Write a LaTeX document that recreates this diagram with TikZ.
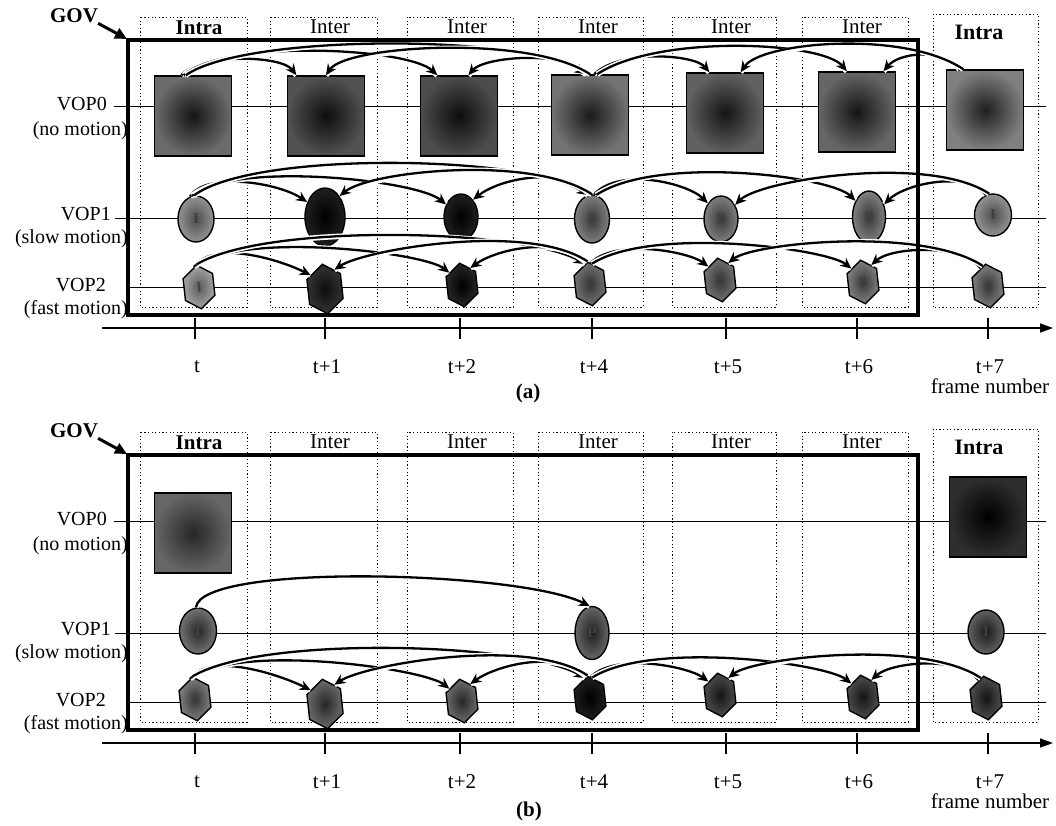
\documentclass[tikz,border=0pt]{standalone}
\usepackage{fontspec}
\setmainfont{Liberation Serif}
\usetikzlibrary{shapes.geometric,arrows.meta}
\tikzset{
  txt/.style={font=\fontsize{21}{22}\selectfont, inner sep=0pt},
  rowtxt/.style={font=\fontsize{20}{20}\selectfont, inner sep=0pt},
  txtb/.style={font=\bfseries\fontsize{21}{22}\selectfont, inner sep=0pt},
  colbox/.style={draw, line width=0.9pt, dash pattern=on 1.2pt off 2.4pt},
  govbox/.style={draw, line width=3.6pt},
  rowline/.style={draw, line width=0.9pt},
  sq/.style={rectangle, draw, line width=1.6pt, minimum width=77, minimum height=80, inner sep=0pt},
  ell/.style={ellipse, draw, line width=1.4pt, inner sep=0pt, text=black!75, font=\bfseries\fontsize{15}{15}\selectfont},
  hexa/.style={regular polygon, regular polygon sides=6, shape border rotate=30, draw, line width=1.4pt, minimum size=44, inner sep=0pt, xscale=0.78, rotate=8, text=black!75, font=\bfseries\fontsize{15}{15}\selectfont},
  shd/.style 2 args={outer color=#1, inner color=#2},
  pred/.style={line width=2.3pt, -{Stealth[length=11pt,width=10pt]}, preaction={draw=white, line width=5.5pt, arrows=-}},
  govarrow/.style={line width=3pt, -{Triangle[length=12pt,width=11pt]}},
  timeaxis/.style={line width=1.4pt, -{Triangle[length=13pt,width=9pt]}},
  tickmark/.style={line width=2pt},
}
\newcommand\panelback[1]{%
  \foreach \l/\r/\k in {140/247/0,270/377/1,407/513/2,538/643/3,672/776/4,802/908/5}{
    \draw[colbox] (\l,17) rectangle (\r,307);
  }
  \draw[colbox] (933,14) rectangle (1038,307);
  \node[txtb] (#1h0) at (199,28) {Intra};
  \foreach \x/\k in {330/1,467/2,598/3,731/4,862/5}{
    \node[txt] (#1h\k) at (\x,27) {Inter};
  }
  \node[txtb, font=\bfseries\fontsize{22}{22}\selectfont] (#1h6) at (979,32) {Intra};
  \node[rowtxt, anchor=east] (#1l0) at (107,104) {VOP0};
  \node[rowtxt, anchor=east] (#1m0) at (128,131) {(no motion)};
  \node[rowtxt, anchor=east] (#1l1) at (111,214) {VOP1};
  \node[rowtxt, anchor=east] (#1m1) at (128,239) {(slow motion)};
  \node[rowtxt, anchor=east] (#1l2) at (106,285) {VOP2};
  \node[rowtxt, anchor=east] (#1m2) at (128,310) {(fast motion)};
  \draw[rowline] (114,106) -- (1046,106);
  \draw[rowline] (115,218) -- (1046,218);
  \draw[rowline] (130,287) -- (1046,287);
  \coordinate (#1ax0) at (102,328);
  \coordinate (#1ax1) at (1053,328);
  \draw[timeaxis] (#1ax0) -- (#1ax1);
  \foreach \x/\lab/\k in {195/t/0,325/t+1/1,460/t+2/2,592/t+4/3,726/t+5/4,857/t+6/5,988/t+7/6}{
    \draw[tickmark] (\x,318) -- (\x,339);
    \node[txt] (#1k\k) at (\x+2,367) {\lab};
  }
  \node[txt] (#1fn) at (990,386) {frame number};
  \node[txtb] (#1gov) at (74,16) {GOV};
  \coordinate (#1gc) at (127,39);
}
\newcommand\panelgov[1]{%
  \draw[govbox] (128,40) rectangle (918,315);
  \draw[govarrow] (#1gov.south east) -- (#1gc);
}
\newcommand\hexarcs[1]{%
  \draw[pred] (#1t.100) .. controls +(20,-28) and +(-30,-15) .. (#1u.135);
  \draw[pred] (#1t.95) .. controls +(50,-35) and +(-25,-20) .. (#1v.135);
  \draw[pred] (#1t.90) .. controls +(70,-42) and +(-60,-35) .. (#1w.100);
  \draw[pred] (#1w.95) .. controls +(-30,-28) and +(25,-18) .. (#1v.50);
  \draw[pred] (#1w.90) .. controls +(-60,-40) and +(30,-20) .. (#1u.50);
  \draw[pred] (#1w.80) .. controls +(25,-25) and +(-20,-15) .. (#1x.130);
  \draw[pred] (#1w.75) .. controls +(60,-38) and +(-25,-20) .. (#1y.130);
  \draw[pred] (#1z.110) .. controls +(-20,-25) and +(20,-18) .. (#1y.50);
  \draw[pred] (#1z.100) .. controls +(-60,-40) and +(25,-20) .. (#1x.50);
}
\begin{document}
\begin{tikzpicture}[x=1pt,y=-1pt]
\useasboundingbox (0,0) rectangle (1056,825);
% ================= panel (a)
\panelback{a}
\node[sq, shd={black!58}{black!92}] (a0t) at (193,116) {};
\node[sq, shd={black!68}{black!95}] (a0u) at (326,116) {};
\node[sq, shd={black!70}{black!95}] (a0v) at (459,116) {};
\node[sq, shd={black!55}{black!90}] (a0w) at (590,115) {};
\node[sq, shd={black!62}{black!92}] (a0x) at (725,113) {};
\node[sq, shd={black!60}{black!92}] (a0y) at (857,112) {};
\node[sq, shd={black!50}{black!88}] (a0z) at (985,110) {};
\node[ell, minimum width=36, minimum height=46, shd={black!42}{black!70}] (a1t) at (196,219) {I};
\node[ell, minimum width=40, minimum height=58, shd={black!88}{black}] (a1u) at (325,217) {};
\node[ell, minimum width=34, minimum height=46, shd={black!88}{black}] (a1v) at (461,217) {};
\node[ell, minimum width=35, minimum height=48, shd={black!50}{black!78}] (a1w) at (592,219) {P};
\node[ell, minimum width=34, minimum height=46, shd={black!50}{black!78}] (a1x) at (721,219) {B};
\node[ell, minimum width=33, minimum height=52, shd={black!50}{black!78}] (a1y) at (869,217) {B};
\node[ell, minimum width=37, minimum height=42, shd={black!42}{black!70}] (a1z) at (993,215) {I};
\node[hexa, shd={black!35}{black!65}] (a2t) at (199,287) {I};
\node[hexa, minimum size=50, shd={black!80}{black!95}] (a2u) at (325,289) {};
\node[hexa, shd={black!85}{black}] (a2v) at (462,285) {};
\node[hexa, shd={black!55}{black!80}] (a2w) at (590,284) {P};
\node[hexa, shd={black!55}{black!80}] (a2x) at (720,280) {B};
\node[hexa, shd={black!50}{black!78}] (a2y) at (863,282) {B};
\node[hexa, shd={black!50}{black!80}] (a2z) at (988,286) {I};
% VOP0 arcs
\draw[pred] (a0t.106) .. controls +(20,-22) and +(-15,-20) .. (a0u.126);
\draw[pred] (a0t.103) .. controls +(40,-36) and +(-30,-28) .. (a0v.118);
\draw[pred] (a0t.100) .. controls +(60,-42) and +(-60,-40) .. (a0w.96);
\draw[pred] (a0w.93) .. controls +(-25,-25) and +(15,-18) .. (a0v.77);
\draw[pred] (a0w.90) .. controls +(-60,-40) and +(20,-30) .. (a0u.90);
\draw[pred] (a0w.84) .. controls +(25,-25) and +(-15,-18) .. (a0x.111);
\draw[pred] (a0w.80) .. controls +(60,-40) and +(-25,-30) .. (a0y.104);
\draw[pred] (a0z.122) .. controls +(-20,-22) and +(15,-18) .. (a0y.57);
\draw[pred] (a0z.118) .. controls +(-60,-40) and +(20,-30) .. (a0x.69);
% VOP1 arcs
\draw[pred] (a1t.105) .. controls +(15,-25) and +(-30,-20) .. (a1u.140);
\draw[pred] (a1t.100) .. controls +(40,-35) and +(-30,-25) .. (a1v.140);
\draw[pred] (a1t.95) .. controls +(60,-45) and +(-60,-40) .. (a1w.100);
\draw[pred] (a1w.95) .. controls +(-30,-30) and +(25,-20) .. (a1v.55);
\draw[pred] (a1w.90) .. controls +(-60,-40) and +(30,-25) .. (a1u.55);
\draw[pred] (a1w.85) .. controls +(25,-28) and +(-20,-20) .. (a1x.130);
\draw[pred] (a1w.80) .. controls +(60,-40) and +(-25,-25) .. (a1y.130);
\draw[pred] (a1z.110) .. controls +(-20,-25) and +(20,-20) .. (a1y.40);
\draw[pred] (a1z.100) .. controls +(-60,-40) and +(25,-25) .. (a1x.45);
% VOP2 arcs
\hexarcs{a2}
\panelgov{a}
\node[txtb] (acap) at (528,393) {(a)};
% ================= panel (b)
\begin{scope}[shift={(0,415)}]
\panelback{b}
\node[sq, shd={black!60}{black!85}] (b0t) at (193,118) {};
\node[sq, shd={black!82}{black}] (b0z) at (988,102) {};
\node[ell, minimum width=37, minimum height=46, shd={black!55}{black!85}] (b1t) at (198,216) {I};
\node[ell, minimum width=34, minimum height=53, shd={black!60}{black!88}] (b1w) at (592,218) {P};
\node[ell, minimum width=36, minimum height=44, shd={black!62}{black!90}] (b1z) at (986,217) {I};
\node[hexa, shd={black!50}{black!80}] (b2t) at (195,284) {I};
\node[hexa, minimum size=50, shd={black!58}{black!85}] (b2u) at (325,289) {};
\node[hexa, shd={black!58}{black!85}] (b2v) at (462,286) {};
\node[hexa, shd={black!88}{black}] (b2w) at (590,283) {};
\node[hexa, shd={black!70}{black!92}] (b2x) at (720,280) {};
\node[hexa, shd={black!70}{black!92}] (b2y) at (863,282) {};
\node[hexa, shd={black!70}{black!92}] (b2z) at (986,283) {};
\draw[pred] (b1t.95) .. controls +(5,-45) and +(-70,-35) .. (b1w.95);
\hexarcs{b2}
\panelgov{b}
\end{scope}
\node[txtb] (bcap) at (529,811) {(b)};
\end{tikzpicture}
\end{document}
